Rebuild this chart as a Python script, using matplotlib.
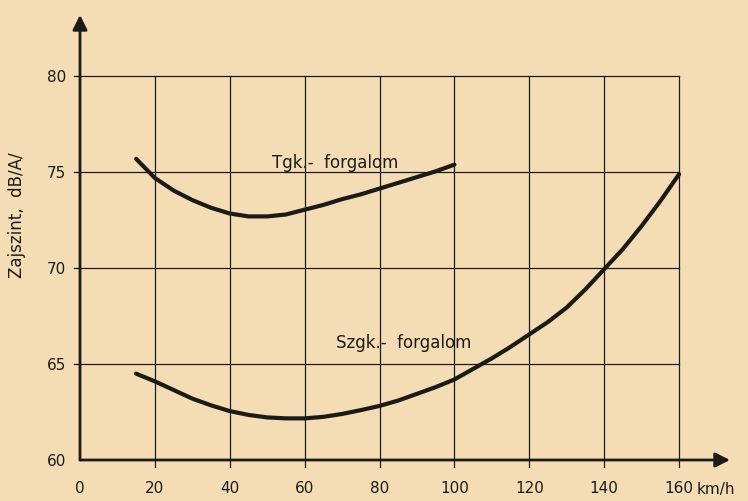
import matplotlib.pyplot as plt

# sebesség (km/h) és zajszint (dB/A/) értékek
tgk_v = [15, 17, 20, 25, 30, 35, 40, 45, 50, 55, 60, 65, 70, 75, 80, 85, 90, 95, 100]
tgk_db = [75.7, 75.3, 74.7, 74.05, 73.55, 73.15, 72.85, 72.7, 72.7, 72.8,
          73.05, 73.3, 73.6, 73.85, 74.15, 74.45, 74.75, 75.05, 75.4]

szgk_v = [15, 20, 25, 30, 35, 40, 45, 50, 55, 60, 65, 70, 75, 80, 85, 90, 95,
          100, 105, 110, 115, 120, 125, 130, 135, 140, 145, 150, 155, 160]
szgk_db = [64.5, 64.1, 63.65, 63.2, 62.85, 62.55, 62.35, 62.22, 62.17, 62.17,
           62.25, 62.4, 62.6, 62.82, 63.1, 63.45, 63.8, 64.2, 64.75, 65.3,
           65.9, 66.55, 67.2, 67.95, 68.9, 69.95, 71.0, 72.2, 73.5, 74.9]

x_ticks = [0, 20, 40, 60, 80, 100, 120, 140, 160]
x_labels = ['0', '20', '40', '60', '80', '100', '120', '140', '160']
y_ticks = [60, 65, 70, 75, 80]
y_labels = ['60', '65', '70', '75', '80']

papir = '#f4ddb4'
tinta = '#1c1a17'

plt.rcParams['font.family'] = ['DejaVu Sans']

fig = plt.figure(figsize=(7.48, 5.01), dpi=100, facecolor=papir)
ax = fig.add_axes([80 / 748, 41 / 501, 650 / 748, 445 / 501])
ax.set_facecolor(papir)
ax.set_xlim(0, 173.6)
ax.set_ylim(60, 83.2)
for s in ax.spines.values():
    s.set_visible(False)

# rács
for v in x_ticks[1:]:
    ax.plot([v, v], [59.63, 80], color=tinta, lw=0.9, clip_on=False)
for d in y_ticks[1:]:
    ax.plot([-1.6, 160], [d, d], color=tinta, lw=0.9, clip_on=False)

# tengelyek nyíllal
ax.annotate('', xy=(173.6, 60), xytext=(0, 60),
            arrowprops=dict(arrowstyle='-|>', lw=2, color=tinta, mutation_scale=22,
                            shrinkA=0, shrinkB=0), annotation_clip=False)
ax.annotate('', xy=(0, 83.2), xytext=(0, 60),
            arrowprops=dict(arrowstyle='-|>', lw=2, color=tinta, mutation_scale=22,
                            shrinkA=0, shrinkB=0), annotation_clip=False)

# görbék
ax.plot(tgk_v, tgk_db, color=tinta, lw=3, solid_capstyle='round')
ax.plot(szgk_v, szgk_db, color=tinta, lw=3, solid_capstyle='round')

ax.text(51.3, 75.5, 'Tgk.-  forgalom', fontsize=12, color=tinta, va='center')
ax.text(68.4, 66.1, 'Szgk.-  forgalom', fontsize=12, color=tinta, va='center')

ax.set_xticks(x_ticks, x_labels)
ax.set_yticks(y_ticks, y_labels)
ax.tick_params(axis='both', length=0, labelsize=11, colors=tinta)
ax.tick_params(axis='x', pad=15)
ax.tick_params(axis='y', pad=10)
ax.text(164.8, 58.45, 'km/h', fontsize=11, color=tinta, va='center', ha='left')

fig.text(17 / 748, 1 - 215 / 501, 'Zajszint,  dB/A/', fontsize=12, color=tinta,
         rotation=90, ha='center', va='center')

fig.savefig('out.png', dpi=100, facecolor=papir)
